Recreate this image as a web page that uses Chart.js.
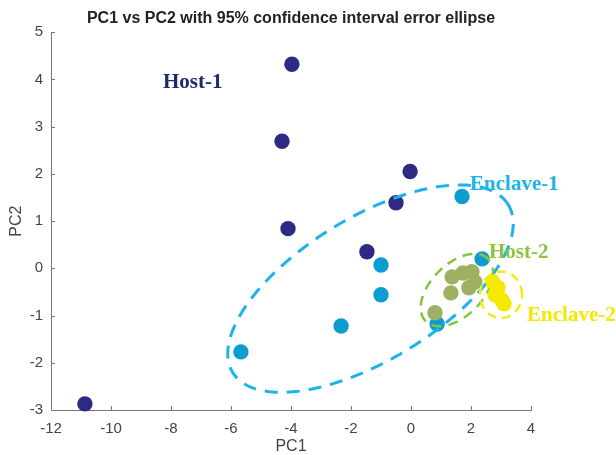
<!DOCTYPE html>
<html lang="en">
<head>
<meta charset="UTF-8">
<title>PC1 vs PC2</title>
<script src="https://cdn.jsdelivr.net/npm/chart.js"></script>
<style>
  html, body { margin: 0; padding: 0; background: #fff; }
  #wrap { width: 616px; height: 455px; }
</style>
</head>
<body>
<div id="wrap"><canvas id="pcaChart"></canvas></div>
<script>
// PCA scores per group
const host1X = [-10.87, -3.97, -4.3, -4.1, -0.03, -0.5, -1.47];
const host1Y = [-2.87, 4.32, 2.69, 0.84, 2.05, 1.39, 0.35];
const enclave1X = [-5.67, -2.33, -1.0, -1.0, 0.87, 1.7, 2.37];
const enclave1Y = [-1.77, -1.22, -0.56, 0.07, -1.18, 1.52, 0.2];
const host2X = [0.8, 1.33, 1.37, 1.73, 2.03, 2.13, 1.93];
const host2Y = [-0.94, -0.52, -0.18, -0.1, -0.07, -0.29, -0.41];
const enclave2X = [2.73, 2.9, 2.8, 3.03, 3.1];
const enclave2Y = [-0.29, -0.41, -0.56, -0.67, -0.75];

// 95% error ellipses: centre and two conjugate semi-diameters (data units)
const ellipseCx = [-1.35, 1.53, 3.0];
const ellipseCy = [-0.43, -0.46, -0.56];
const ellipseUx = [4.6, 1.04, 0.7];
const ellipseUy = [1.77, 0.66, 0.0];
const ellipseVx = [-1.22, -0.61, 0.0];
const ellipseVy = [1.3, 0.39, 0.49];

// group labels written on the plot
const labelText = ['Host-1', 'Enclave-1', 'Host-2', 'Enclave-2'];
const labelX = [-8.27, 1.97, 2.6, 3.87];
const labelY = [3.94, 1.77, 0.33, -1.0];

const xTicks = [-12, -10, -8, -6, -4, -2, 0, 2, 4];
const yTicks = [-3, -2, -1, 0, 1, 2, 3, 4, 5];

const labelColors = ['#1c2a6c', '#1fb3ea', '#8cc540', '#f3e800'];

function toPoints(xs, ys) {
    return xs.map((v, i) => ({ x: v, y: ys[i] }));
}

function ellipsePoints(i) {
    const pts = [];
    for (let k = 0; k <= 120; k++) {
        const t = k / 120 * Math.PI * 2;
        pts.push({
            x: ellipseCx[i] + ellipseUx[i] * Math.cos(t) + ellipseVx[i] * Math.sin(t),
            y: ellipseCy[i] + ellipseUy[i] * Math.cos(t) + ellipseVy[i] * Math.sin(t)
        });
    }
    return pts;
}

function dots(data, color) {
    return {
        type: 'scatter', data: data,
        pointRadius: 7.7, pointBackgroundColor: color, pointBorderWidth: 0,
        clip: false
    };
}

function ring(data, color, width, dash) {
    return {
        type: 'scatter', data: data, showLine: true,
        borderColor: color, borderWidth: width, borderDash: dash,
        pointRadius: 0, fill: false, clip: false
    };
}

// inward tick marks (matlab style) and the group labels
const extrasPlugin = {
    id: 'extras',
    afterDraw(chart) {
        const { ctx, chartArea, scales: { x, y } } = chart;
        ctx.save();
        ctx.strokeStyle = '#777';
        ctx.lineWidth = 1;
        ctx.beginPath();
        xTicks.forEach(v => {
            const px = Math.round(x.getPixelForValue(v)) + 0.5;
            ctx.moveTo(px, chartArea.bottom);
            ctx.lineTo(px, chartArea.bottom - 4);
        });
        yTicks.forEach(v => {
            const py = Math.round(y.getPixelForValue(v)) + 0.5;
            ctx.moveTo(chartArea.left, py);
            ctx.lineTo(chartArea.left + 4, py);
        });
        ctx.stroke();

        ctx.font = 'bold 21px "Liberation Serif"';
        ctx.textBaseline = 'middle';
        labelText.forEach((txt, i) => {
            ctx.fillStyle = labelColors[i];
            ctx.fillText(txt, x.getPixelForValue(labelX[i]), y.getPixelForValue(labelY[i]));
        });
        ctx.restore();
    }
};

Chart.defaults.font.family = '"Liberation Sans", Arial, sans-serif';

const ctx = document.getElementById('pcaChart').getContext('2d');
const pcaChart = new Chart(ctx, {
    type: 'scatter',
    data: {
        // first dataset is drawn on top
        datasets: [
            ring(ellipsePoints(2), '#f5ea10', 2.5, [9, 6]),
            dots(toPoints(enclave2X, enclave2Y), '#f4ea00'),
            ring(ellipsePoints(1), '#86c440', 2.5, [10, 7]),
            dots(toPoints(host2X, host2Y), '#9db063'),
            ring(ellipsePoints(0), '#1cb2ec', 3, [13, 9]),
            dots(toPoints(enclave1X, enclave1Y), '#0c9ccf'),
            dots(toPoints(host1X, host1Y), '#2e2984')
        ]
    },
    options: {
        responsive: true,
        maintainAspectRatio: false,
        animation: false,
        events: [],
        layout: { padding: { left: 0, right: 85, top: 0, bottom: 0 } },
        plugins: {
            legend: { display: false },
            tooltip: { enabled: false },
            title: {
                display: true,
                fullSize: false,
                text: 'PC1 vs PC2 with 95% confidence interval error ellipse',
                color: '#222',
                font: { size: 16, weight: 'bold' },
                padding: { top: 9, bottom: 4 }
            }
        },
        scales: {
            x: {
                type: 'linear', min: -12, max: 4,
                afterBuildTicks: s => { s.ticks = xTicks.map(v => ({ value: v })); },
                afterFit: s => { s.height = 45; },
                ticks: { color: '#444', font: { size: 15 }, padding: 10 },
                grid: { display: true, drawOnChartArea: false, drawTicks: false },
                border: { display: true, color: '#777', width: 1 },
                title: { display: true, text: 'PC1', color: '#444', font: { size: 16, lineHeight: 1 }, padding: { top: 0, bottom: 0 } }
            },
            y: {
                type: 'linear', min: -3, max: 5,
                afterBuildTicks: s => { s.ticks = yTicks.map(v => ({ value: v })); },
                afterFit: s => { s.width = 51; },
                ticks: { color: '#444', font: { size: 15 }, padding: 8 },
                grid: { display: true, drawOnChartArea: false, drawTicks: false },
                border: { display: true, color: '#777', width: 1 },
                title: { display: true, text: 'PC2', color: '#444', font: { size: 16, lineHeight: 1 }, padding: { top: 9, bottom: 0 } }
            }
        }
    },
    plugins: [extrasPlugin]
});
</script>
</body>
</html>
